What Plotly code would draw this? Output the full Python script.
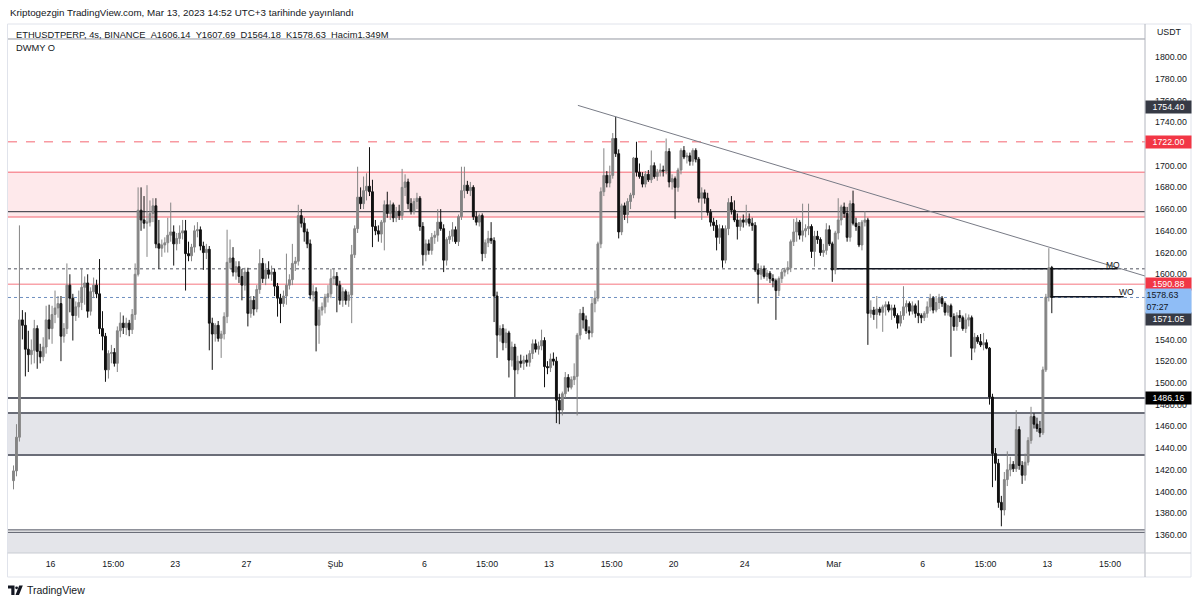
import plotly.graph_objects as go
import pandas as pd

# ---------------- data (4h candles, ETHUSDTPERP) ----------------
opens = [
1410,1419,1450,1558,1553,1531,1526,1530,1550,1529, 1524,1533,1558,1550,1563,1569,1573,1543,1550,1590,
1578,1562,1570,1574,1588,1592,1566,1584,1590,1582, 1550,1543,1512,1527,1528,1518,1548,1555,1551,1555,
1549,1563,1600,1659,1650,1647,1648,1656,1663,1628, 1624,1627,1629,1636,1639,1628,1633,1638,1640,1619,
1617,1625,1640,1641,1626,1620,1623,1555,1545,1553, 1541,1545,1561,1611,1615,1602,1607,1598,1590,1602,
1564,1576,1568,1586,1610,1596,1604,1600,1602,1589, 1578,1573,1580,1590,1595,1610,1612,1654,1647,1639,
1628,1581,1584,1553,1567,1570,1579,1582,1596,1598, 1590,1576,1584,1576,1581,1618,1642,1671,1665,1677,
1681,1676,1644,1640,1637,1648,1664,1656,1664,1652, 1658,1654,1680,1685,1665,1658,1667,1670,1644,1618,
1628,1622,1634,1636,1648,1642,1613,1632,1635,1641, 1630,1653,1677,1682,1677,1680,1653,1648,1654,1619,
1629,1633,1631,1580,1544,1550,1537,1546,1521,1533, 1512,1520,1518,1521,1519,1527,1536,1531,1534,1539,
1515,1514,1522,1520,1484,1475,1490,1505,1496,1503, 1506,1544,1564,1558,1548,1546,1573,1578,1628,1676,
1691,1684,1691,1725,1711,1639,1663,1655,1667,1673, 1707,1694,1690,1683,1692,1687,1700,1690,1694,1696,
1695,1713,1685,1688,1680,1696,1714,1708,1709,1704, 1714,1706,1670,1675,1670,1657,1648,1645,1634,1642,
1613,1642,1666,1659,1650,1644,1650,1648,1651,1647, 1645,1604,1600,1605,1598,1601,1596,1594,1585,1596,
1602,1604,1606,1630,1639,1648,1636,1640,1642,1644, 1621,1635,1632,1620,1622,1641,1628,1604,1638,1650,
1662,1656,1634,1665,1647,1644,1627,1648,1650,1564, 1567,1563,1568,1565,1570,1572,1567,1569,1562,1555,
1562,1570,1573,1566,1571,1564,1562,1560,1564,1570, 1578,1567,1574,1578,1573,1565,1571,1561,1552,1562,
1560,1550,1558,1560,1532,1542,1538,1535,1537,1532, 1487,1435,1426,1390,1383,1411,1420,1425,1421,1457,
1424,1415,1427,1447,1469,1462,1458,1454,1512,1579, 1606.14]

highs = [
1424,1462,1645,1567,1565,1548,1540,1558,1553,1536, 1542,1571,1572,1571,1585,1580,1580,1555,1610,1600,
1582,1575,1585,1605,1598,1600,1588,1597,1595,1614, 1566,1546,1530,1535,1532,1552,1565,1562,1560,1558,
1568,1610,1680,1680,1672,1682,1668,1670,1670,1650, 1632,1634,1652,1666,1645,1638,1645,1650,1650,1630,
1628,1645,1648,1644,1630,1628,1626,1560,1555,1557, 1548,1565,1641,1632,1625,1612,1612,1605,1606,1606,
1580,1580,1590,1623,1615,1610,1612,1608,1605,1592, 1582,1585,1619,1600,1628,1616,1664,1660,1652,1642,
1632,1590,1588,1570,1574,1582,1590,1605,1605,1602, 1594,1588,1586,1584,1627,1645,1699,1680,1690,1693,
1717,1687,1650,1645,1650,1668,1676,1668,1666,1662, 1664,1697,1692,1688,1670,1670,1675,1672,1648,1632,
1632,1638,1640,1660,1660,1646,1634,1640,1648,1644, 1655,1699,1699,1686,1685,1682,1658,1656,1656,1632,
1640,1648,1634,1584,1553,1554,1550,1548,1538,1536, 1525,1526,1525,1526,1530,1540,1540,1538,1549,1542,
1520,1527,1528,1524,1490,1492,1510,1508,1506,1518, 1546,1568,1570,1562,1552,1578,1585,1630,1680,1716,
1695,1700,1730,1745,1715,1665,1666,1670,1675,1708, 1722,1702,1694,1695,1696,1714,1703,1697,1702,1700,
1725,1716,1692,1690,1698,1716,1718,1712,1712,1716, 1716,1708,1680,1678,1675,1660,1652,1650,1646,1645,
1645,1670,1672,1668,1656,1652,1655,1664,1656,1652, 1648,1610,1608,1608,1604,1603,1600,1596,1598,1605,
1606,1612,1632,1651,1652,1650,1665,1646,1665,1646, 1640,1640,1634,1628,1647,1645,1630,1640,1670,1664,
1666,1662,1668,1677,1652,1648,1650,1658,1652,1576, 1570,1580,1570,1572,1575,1575,1572,1572,1564,1566,
1589,1576,1575,1575,1573,1576,1564,1566,1575,1582, 1580,1580,1582,1580,1575,1572,1573,1564,1565,1567,
1562,1564,1563,1562,1546,1544,1545,1546,1540,1533, 1490,1440,1430,1396,1418,1437,1432,1428,1475,1460,
1428,1435,1450,1478,1472,1468,1465,1515,1582,1624, 1607.69]

lows = [
1402,1414,1446,1540,1506,1510,1517,1518,1513,1518, 1520,1527,1540,1536,1555,1560,1520,1537,1545,1565,
1539,1557,1560,1567,1572,1560,1562,1578,1578,1545, 1530,1501,1504,1518,1515,1510,1542,1545,1544,1543,
1545,1558,1598,1640,1642,1616,1644,1648,1624,1605, 1616,1620,1620,1630,1608,1622,1628,1632,1585,1612,
1612,1620,1634,1622,1604,1614,1530,1512,1538,1538, 1523,1540,1555,1605,1598,1595,1592,1576,1585,1552,
1560,1562,1565,1582,1592,1590,1596,1594,1580,1561, 1555,1570,1572,1586,1590,1603,1608,1643,1630,1624,
1577,1575,1529,1536,1562,1564,1574,1578,1590,1565, 1572,1570,1572,1570,1555,1615,1638,1660,1660,1668,
1672,1625,1636,1630,1629,1622,1652,1650,1648,1648, 1650,1650,1672,1660,1655,1655,1660,1640,1608,1612,
1618,1618,1628,1630,1640,1602,1608,1628,1630,1628, 1626,1650,1670,1674,1672,1650,1645,1644,1612,1615,
1625,1628,1556,1523,1538,1530,1532,1505,1515,1487, 1508,1514,1512,1515,1515,1522,1528,1526,1530,1496,
1508,1510,1516,1463,1462,1470,1486,1492,1494,1498, 1470,1540,1550,1545,1540,1542,1565,1575,1624,1672,
1680,1680,1688,1708,1633,1636,1650,1647,1660,1670, 1690,1688,1680,1680,1685,1684,1688,1686,1690,1690,
1692,1680,1678,1651,1676,1692,1706,1702,1700,1700, 1703,1666,1650,1665,1654,1644,1640,1622,1628,1606,
1610,1636,1655,1648,1632,1640,1643,1645,1644,1640, 1602,1573,1595,1596,1594,1592,1588,1558,1580,1592,
1598,1600,1602,1626,1630,1632,1630,1634,1636,1615, 1607,1628,1617,1616,1618,1626,1593,1600,1632,1645,
1652,1630,1630,1645,1640,1625,1622,1644,1535,1560, 1558,1550,1562,1547,1562,1565,1558,1560,1550,1552,
1558,1564,1562,1563,1560,1555,1555,1557,1560,1566, 1564,1565,1568,1570,1562,1562,1524,1548,1548,1556,
1548,1546,1552,1521,1528,1536,1533,1530,1531,1480, 1404,1410,1385,1368,1378,1405,1414,1418,1418,1420,
1407,1410,1424,1444,1458,1455,1450,1452,1510,1575, 1564.18]

closes = [
1419,1450,1558,1553,1531,1526,1530,1550,1529,1524, 1533,1558,1550,1563,1569,1573,1543,1550,1590,1578,
1562,1570,1574,1588,1592,1566,1584,1590,1582,1550, 1543,1512,1527,1528,1518,1548,1555,1551,1555,1549,
1563,1600,1659,1650,1647,1648,1656,1663,1628,1624, 1627,1629,1636,1639,1628,1633,1638,1640,1619,1617,
1625,1640,1641,1626,1620,1623,1555,1545,1553,1541, 1545,1561,1611,1615,1602,1607,1598,1590,1602,1564,
1576,1568,1586,1610,1596,1604,1600,1602,1589,1578, 1573,1580,1590,1595,1610,1612,1654,1647,1639,1628,
1581,1584,1553,1567,1570,1579,1582,1596,1598,1590, 1576,1584,1576,1581,1618,1642,1671,1665,1677,1681,
1676,1644,1640,1637,1648,1664,1656,1664,1652,1658, 1654,1680,1685,1665,1658,1667,1670,1644,1618,1628,
1622,1634,1636,1648,1642,1613,1632,1635,1641,1630, 1653,1677,1682,1677,1680,1653,1648,1654,1619,1629,
1633,1631,1580,1544,1550,1537,1546,1521,1533,1512, 1520,1518,1521,1519,1527,1536,1531,1534,1539,1515,
1514,1522,1520,1484,1475,1490,1505,1496,1503,1506, 1544,1564,1558,1548,1546,1573,1578,1628,1676,1691,
1684,1691,1725,1711,1639,1663,1655,1667,1673,1707, 1694,1690,1683,1692,1687,1700,1690,1694,1696,1695,
1713,1685,1688,1680,1696,1714,1708,1709,1704,1714, 1706,1670,1675,1670,1657,1648,1645,1634,1642,1613,
1642,1666,1659,1650,1644,1650,1648,1651,1647,1645, 1604,1600,1605,1598,1601,1596,1594,1585,1596,1602,
1604,1606,1630,1639,1648,1636,1640,1642,1644,1621, 1635,1632,1620,1622,1641,1628,1604,1638,1650,1662,
1656,1634,1665,1647,1644,1627,1648,1650,1564,1567, 1563,1568,1565,1570,1572,1567,1569,1562,1555,1562,
1570,1573,1566,1571,1564,1562,1560,1564,1570,1578, 1567,1574,1578,1573,1565,1571,1561,1552,1562,1560,
1550,1558,1560,1532,1542,1538,1535,1537,1532,1487, 1435,1426,1390,1383,1411,1420,1425,1421,1457,1424,
1415,1427,1447,1469,1462,1458,1454,1512,1579,1606, 1578.63]

first_bar = "2023-01-14 03:00"   # first 4h bar (UTC+3)
bar_times = pd.date_range(first_bar, periods=len(closes), freq="4h")

# tick labels the reference shows (1720, 1580 and 1560 are hidden under price tags)
price_ticks = [1360, 1380, 1400, 1420, 1440, 1460, 1480, 1500, 1520, 1540,
               1600, 1620, 1640, 1660, 1680, 1700, 1740, 1760, 1780, 1800]
price_tick_text = ["%.2f" % v for v in price_ticks]

time_tick_text = ["16", "15:00", "23", "27", "Şub", "6", "15:00", "13", "15:00", "20",
                  "24", "Mar", "6", "15:00", "13", "15:00"]
time_tick_vals = ["2023-01-16 05:00", "2023-01-19 17:30", "2023-01-23 05:00", "2023-01-27 05:00",
                  "2023-02-01 05:00", "2023-02-06 05:00", "2023-02-09 17:30", "2023-02-13 05:00",
                  "2023-02-16 17:30", "2023-02-20 05:00", "2023-02-24 05:00", "2023-03-01 05:00",
                  "2023-03-06 05:00", "2023-03-09 17:30", "2023-03-13 05:00", "2023-03-16 17:30"]

# horizontal levels / zones drawn on the chart
red_zone = [1652.7, 1694.0]
zone_mid_line = 1657.6
dashed_red = 1722.0
mo_level = 1605.0
red_level = 1590.88
last_price = 1578.63
wo_level = 1579.4
grey_level = 1486.16
grey_zone = [1433.7, 1472.3]
bottom_lines = [1362.4, 1364.6]
top_line = 1816.6
trend_pts = [("2023-02-14 20:00", 1755.5), ("2023-03-18 16:40", 1598.4)]
mo_segment = ["2023-03-01 04:00", "2023-03-17 04:00"]
wo_segment = ["2023-03-13 09:00", "2023-03-17 12:00"]

# price tags on the axis: text, where the tag sits on the scale, background, text colour
axis_labels = [
    ("1754.40", 1754.40, "#363a45", "#ffffff"),
    ("1722.00", 1722.00, "#f23645", "#ffffff"),
    ("1590.88", 1590.88, "#f23645", "#ffffff"),
    ("1571.05", 1558.8, "#363a45", "#ffffff"),
    ("1486.16", 1486.16, "#000000", "#ffffff"),
]
countdown = "07:27"

# ---------------- geometry ----------------
W, H = 1200, 605
ML, MR, MT, MB = 8, 55, 24, 52
PW, PH = W - ML - MR, H - MT - MB
Y_RANGE = [1343.4, 1830.4]
X_RANGE = ["2023-01-13 19:35", "2023-03-18 16:40"]
FONT = "Liberation Sans"
TXT = "#131722"
UP, DN = "#858585", "#111111"


def px(x):
    return (x - ML) / PW


def py(y):
    return (H - MB - y) / PH


fig = go.Figure()
fig.add_trace(go.Candlestick(
    x=bar_times, open=opens, high=highs, low=lows, close=closes,
    increasing=dict(line=dict(color=UP, width=1), fillcolor=UP),
    decreasing=dict(line=dict(color=DN, width=1), fillcolor=DN),
    whiskerwidth=0, hoverinfo="skip", showlegend=False,
))

shapes = []


def hline(y, color, width=1, dash="solid", x0=0, x1=1, xref="paper", opacity=1):
    shapes.append(dict(type="line", xref=xref, yref="y", x0=x0, x1=x1, y0=y, y1=y,
                       line=dict(color=color, width=width, dash=dash), opacity=opacity, layer="below"))


# zones
shapes.append(dict(type="rect", xref="paper", yref="y", x0=0, x1=1, y0=red_zone[0], y1=red_zone[1],
                   fillcolor="rgba(242,54,69,0.11)", line=dict(width=0), layer="below"))
shapes.append(dict(type="rect", xref="paper", yref="y", x0=0, x1=1, y0=grey_zone[0], y1=grey_zone[1],
                   fillcolor="#e4e5ea", line=dict(width=0), layer="below"))
shapes.append(dict(type="rect", xref="paper", yref="y", x0=0, x1=1, y0=Y_RANGE[0], y1=bottom_lines[0],
                   fillcolor="#e4e5ea", line=dict(width=0), layer="below"))

hline(top_line, "#9598a1", 1)
hline(red_zone[1], "#f23645", 1, opacity=0.75)
hline(red_zone[0], "#f23645", 1, opacity=0.75)
hline(zone_mid_line, "#2a2e39", 1)
hline(dashed_red, "#f23645", 1.3, dash="dash", opacity=0.5)
hline(mo_level, "#50535e", 1, dash="dot")
hline(red_level, "#f23645", 1.6, opacity=0.45)
hline(last_price, "#6f8fc0", 1, dash="dot")
hline(grey_level, "#5d606b", 2)
hline(grey_zone[1], "#6a6d78", 2)
hline(grey_zone[0], "#6a6d78", 2)
hline(bottom_lines[1], "#6a6d78", 1.2)
hline(bottom_lines[0], "#6a6d78", 1.2)
hline(mo_level, "#131722", 1.5, x0=mo_segment[0], x1=mo_segment[1], xref="x")
hline(wo_level, "#131722", 1.5, x0=wo_segment[0], x1=wo_segment[1], xref="x")

# trend line
shapes.append(dict(type="line", xref="x", yref="y", x0=trend_pts[0][0], y0=trend_pts[0][1],
                   x1=trend_pts[1][0], y1=trend_pts[1][1], line=dict(color="#787b86", width=1)))

# frame / separators
BORDER = "#e0e3eb"
shapes.append(dict(type="rect", xref="paper", yref="paper", x0=px(7.5), x1=px(1191), y0=py(577), y1=py(24),
                   line=dict(color=BORDER, width=1), fillcolor="rgba(0,0,0,0)"))
shapes.append(dict(type="line", xref="paper", yref="paper", x0=1, x1=1, y0=py(577), y1=py(24),
                   line=dict(color="#b2b5be", width=1)))
shapes.append(dict(type="line", xref="paper", yref="paper", x0=px(7.5), x1=px(1191), y0=0, y1=0,
                   line=dict(color="#c9ccd3", width=1)))


# TradingView logo
def ppath(pts):
    return "M " + " L ".join("%f,%f" % (px(a), py(b)) for a, b in pts) + " Z"


shapes.append(dict(type="path", xref="paper", yref="paper",
                   path=ppath([(8, 585.5), (14.5, 585.5), (14.5, 595), (11.3, 595), (11.3, 588.6), (8, 588.6)]),
                   fillcolor="#131722", line=dict(width=0)))
shapes.append(dict(type="circle", xref="paper", yref="paper", x0=px(15.2), x1=px(18.0), y0=py(589.2), y1=py(586.4),
                   fillcolor="#131722", line=dict(width=0)))
shapes.append(dict(type="path", xref="paper", yref="paper",
                   path=ppath([(19.2, 585.5), (22.8, 585.5), (19.0, 595), (15.5, 595)]),
                   fillcolor="#131722", line=dict(width=0)))

annotations = []


def text_px(x, y, s, size=9, color=TXT, xanchor="left"):
    annotations.append(dict(xref="paper", yref="paper", x=px(x), y=py(y), text=s, showarrow=False,
                            xanchor=xanchor, yanchor="middle", font=dict(family=FONT, size=size, color=color)))


NB = "\u00a0"
text_px(8, 12, "Kriptogezgin TradingView.com, Mar 13, 2023 14:52 UTC+3 tarihinde yayınlandı", 9.8)
text_px(14, 35, "ETHUSDTPERP, 4s, BINANCE" + NB * 2 + "A1606.14" + NB * 2 + "Y1607.69" + NB * 2 +
        "D1564.18" + NB * 2 + "K1578.63" + NB * 2 + "Hacim1.349M", 9.3)
text_px(14, 48, "DWMY O", 9.3)
text_px(1155, 32, "USDT", 8.8)
text_px(1104, 265, "MO", 8.5)
text_px(1117, 292, "WO", 8.5)
text_px(25, 590, "TradingView", 10.5)

for lab, pos, bg, fc in axis_labels:
    annotations.append(dict(xref="paper", yref="y", x=1, y=pos, text=lab, showarrow=False,
                            xanchor="left", yanchor="middle", bgcolor=bg, width=44, height=11,
                            borderpad=0.5, align="center", font=dict(family=FONT, size=8.8, color=fc)))
annotations.append(dict(xref="paper", yref="y", x=1, y=last_price, yshift=-4,
                        text="%.2f<br>%s" % (last_price, countdown), showarrow=False,
                        xanchor="left", yanchor="middle", bgcolor="#8fbdf6", width=44, height=23,
                        borderpad=0.5, align="left", font=dict(family=FONT, size=8.8, color="#131722")))

fig.update_layout(
    width=W, height=H,
    margin=dict(l=ML, r=MR, t=MT, b=MB),
    paper_bgcolor="#ffffff", plot_bgcolor="#ffffff",
    boxgap=0.1,
    shapes=shapes, annotations=annotations,
    showlegend=False,
    xaxis=dict(type="date", range=X_RANGE, rangeslider=dict(visible=False),
               tickvals=time_tick_vals, ticktext=time_tick_text, ticks="",
               showgrid=False, zeroline=False, showline=False,
               tickfont=dict(family=FONT, size=8.8, color=TXT), ticklabelstandoff=4),
    yaxis=dict(range=Y_RANGE, side="right", tickvals=price_ticks, ticktext=price_tick_text,
               ticks="", showgrid=False, zeroline=False, showline=False,
               tickfont=dict(family=FONT, size=8.8, color=TXT), ticklabelstandoff=9),
)

fig.write_html("out.html")
